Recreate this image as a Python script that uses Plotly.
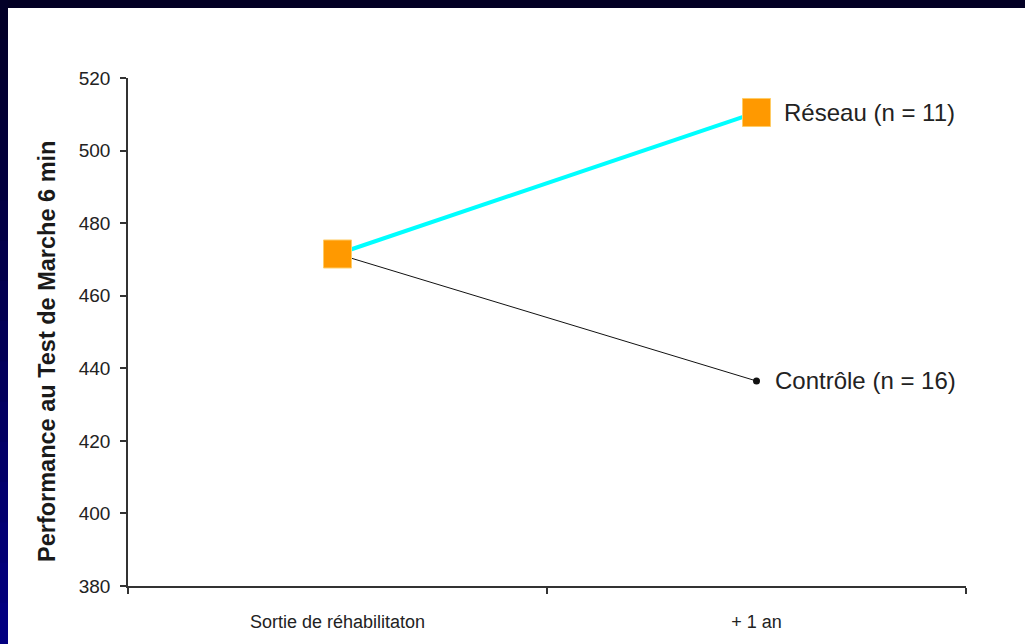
import plotly.graph_objects as go

categories = ["Sortie de réhabilitaton", "+ 1 an"]
reseau = [471.5, 510.5]
controle = [471.5, 436.5]
labels = ["Réseau (n = 11)", "Contrôle (n = 16)"]
yticks = [380, 400, 420, 440, 460, 480, 500, 520]
ytitle = "<b>Performance au Test de Marche 6 min</b>"

fig = go.Figure()

fig.add_trace(go.Scatter(
    x=categories, y=controle, mode="lines+markers",
    line=dict(color="#111111", width=1),
    marker=dict(symbol="circle", size=7, color="#111111"),
))
fig.add_trace(go.Scatter(
    x=categories, y=reseau, mode="lines+markers",
    line=dict(color="#00FFFF", width=4),
    marker=dict(symbol="square", size=28, color="#FF9900",
                line=dict(color="#FFCC66", width=1)),
))

fig.add_annotation(x=categories[1], y=reseau[1], text=labels[0], showarrow=False,
                   xanchor="left", xshift=25, font=dict(size=24, color="#222"))
fig.add_annotation(x=categories[1], y=controle[1], text=labels[1], showarrow=False,
                   xanchor="left", xshift=16, font=dict(size=24, color="#222"))

# y axis title, placed a bit below the plot centre as in the original
fig.add_annotation(xref="paper", yref="paper", x=(47 - 128) / 838, y=(644 - 58 - 352) / 508,
                   text=ytitle, textangle=-90, showarrow=False,
                   xanchor="center", yanchor="middle", font=dict(size=23.5, color="#1a1a1a"))

# dark slide frame: top band and left band (stepped gradient)
shapes = [dict(type="rect", xref="paper", yref="paper", x0=-0.2, x1=1.2,
               y0=1 + (78 - 8) / 508, y1=1.3, fillcolor="#030025", line_width=0, layer="below")]
steps = 16
for i in range(steps):
    t = i / (steps - 1)
    r, g, b = 3, 0, int(40 + t * (128 - 40))
    y_top = 644 - i * 644 / steps
    y_bot = 644 - (i + 1) * 644 / steps
    shapes.append(dict(type="rect", xref="paper", yref="paper",
                       x0=(-128) / 838, x1=(-120) / 838,
                       y0=(y_bot - 58) / 508, y1=(y_top - 58) / 508 + 0.002,
                       fillcolor=f"rgb({r},{g},{b})", line_width=0, layer="below"))
fig.update_layout(shapes=shapes)

fig.update_layout(
    width=1025, height=644,
    margin=dict(l=128, r=59, t=78, b=58),
    paper_bgcolor="white", plot_bgcolor="white",
    showlegend=False,
    font=dict(family="Liberation Sans, Arial, sans-serif", color="#222"),
    xaxis=dict(
        type="category", range=[-0.5, 1.5], tickson="boundaries",
        showline=True, linecolor="#333", linewidth=1.5,
        ticks="outside", ticklen=6, tickcolor="#333", tickwidth=1.5,
        showgrid=False, zeroline=False,
        tickfont=dict(size=18, color="#222"), ticklabelstandoff=19,
    ),
    yaxis=dict(
        range=[380, 520], tickvals=yticks,
        showline=True, linecolor="#333", linewidth=1.5,
        ticks="outside", ticklen=6, tickcolor="#333", tickwidth=1.5,
        showgrid=False, zeroline=False,
        tickfont=dict(size=19, color="#222"), ticklabelstandoff=6,
    ),
)

fig.write_html("out.html", config={"displayModeBar": False},
               post_script="document.body.style.margin='0';document.body.style.overflow='hidden';")
